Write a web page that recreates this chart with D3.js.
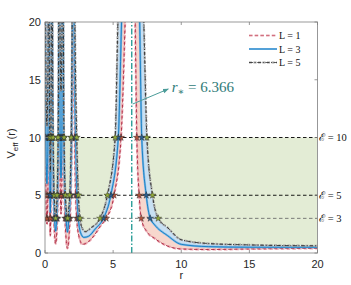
<!DOCTYPE html>
<html>
<head>
<meta charset="utf-8">
<script src="https://cdn.jsdelivr.net/npm/d3@7"></script>
<style>
  body { margin: 0; background: #fff; }
  svg { display: block; }
</style>
</head>
<body>
<div id="chart"></div>
<script>
// values: [r, V_eff] pairs, one array per branch between poles
const rStar = 6.366
const energies = [10, 5, 3]
const xTicks = [0, 5, 10, 15, 20]
const yTicks = [0, 5, 10, 15, 20]

const curveL1 = [
  [[0.004, 40], [0.015, 20], [0.04, 10], [0.08, 4.5], [0.14, 2.5], [0.2, 4.5], [0.24, 10], [0.265, 20], [0.276, 40]],
  [[0.284, 40], [0.295, 20], [0.32, 10], [0.35, 4.5], [0.39, 1.5], [0.43, 4.5], [0.46, 10], [0.485, 20], [0.496, 40]],
  [[0.505, 40], [0.52, 20], [0.56, 10], [0.61, 5], [0.67, 2.5], [0.78, 0.8], [0.89, 2.5], [0.95, 5], [1.0, 10], [1.035, 20], [1.047, 40]],
  [[1.053, 40], [1.065, 20], [1.09, 10], [1.13, 5], [1.175, 3.4], [1.22, 5], [1.26, 10], [1.285, 20], [1.297, 40]],
  [[1.303, 40], [1.32, 20], [1.36, 10], [1.42, 5], [1.5, 2.2], [1.65, 0.4], [1.8, 2.2], [1.9, 5], [1.97, 10], [2.02, 20], [2.045, 40]],
  [[2.055, 40], [2.1, 20], [2.18, 10], [2.25, 5], [2.33, 3], [2.5, 1.4], [2.75, 0.75], [3.1, 0.9], [3.6, 1.5], [4.1, 2.4], [4.49, 3], [5.07, 5], [5.58, 10], [5.88, 20], [6.3, 40]],
  [[6.42, 40], [6.62, 20], [6.74, 10], [6.91, 5], [7.06, 3], [7.5, 1.8], [8, 1.3], [9, 0.6], [10, 0.35], [12, 0.3], [15, 0.35], [20, 0.4]],
]

const curveL3 = [
  [[0.012, 40], [0.03, 20], [0.06, 10], [0.1, 7.5], [0.14, 6], [0.18, 7.5], [0.22, 10], [0.25, 20], [0.268, 40]],
  [[0.29, 40], [0.305, 20], [0.33, 10], [0.36, 6], [0.39, 3.5], [0.42, 6], [0.45, 10], [0.475, 20], [0.49, 40]],
  [[0.512, 40], [0.535, 20], [0.58, 10], [0.63, 5.5], [0.69, 3.3], [0.78, 1.9], [0.87, 3.3], [0.93, 5.5], [0.98, 10], [1.02, 20], [1.04, 40]],
  [[1.06, 40], [1.08, 20], [1.11, 10], [1.175, 6.5], [1.24, 10], [1.27, 20], [1.29, 40]],
  [[1.31, 40], [1.335, 20], [1.38, 10], [1.45, 5.5], [1.53, 3.4], [1.65, 1.8], [1.77, 3.4], [1.87, 5.5], [1.95, 10], [2.005, 20], [2.035, 40]],
  [[2.07, 40], [2.14, 20], [2.25, 10], [2.35, 5], [2.45, 3], [2.6, 1.8], [2.85, 1.35], [3.2, 1.45], [3.7, 2.1], [4.29, 3], [4.83, 5], [5.38, 10], [5.62, 20], [6.2, 40]],
  [[6.46, 40], [6.95, 20], [7.1, 10], [7.43, 5], [7.72, 3], [8, 2.5], [9, 1.5], [10, 0.75], [12, 0.55], [15, 0.5], [20, 0.5]],
]

const curveL5 = [
  [[0.02, 40], [0.05, 20], [0.09, 13], [0.14, 11], [0.19, 13], [0.235, 20], [0.26, 40]],
  [[0.297, 40], [0.315, 20], [0.34, 12], [0.365, 8.5], [0.39, 7], [0.415, 8.5], [0.44, 12], [0.465, 20], [0.483, 40]],
  [[0.52, 40], [0.55, 20], [0.6, 10], [0.65, 6], [0.71, 4], [0.78, 3], [0.85, 4], [0.91, 6], [0.96, 10], [1.005, 20], [1.033, 40]],
  [[1.07, 40], [1.1, 20], [1.175, 14], [1.25, 20], [1.28, 40]],
  [[1.32, 40], [1.35, 20], [1.4, 10], [1.48, 5.5], [1.56, 3.8], [1.65, 2.8], [1.74, 3.8], [1.83, 5.5], [1.92, 10], [1.99, 20], [2.025, 40]],
  [[2.1, 40], [2.2, 20], [2.33, 10], [2.45, 5], [2.57, 3], [2.75, 2.1], [2.95, 1.85], [3.4, 2.2], [4.04, 3], [4.58, 5], [5.15, 10], [5.35, 20], [6.0, 40]],
  [[6.5, 40], [7.25, 20], [7.48, 10], [7.89, 5], [8.31, 3], [9, 2.2], [10, 1.15], [12, 0.82], [15, 0.7], [20, 0.62]],
]

const series = [
  { label: 'L = 1', segs: curveL1, dark: '#a2142f', light: '#e9a3ad', dash: '3.5,2.2', lightDash: '3.5,2.2', star: '#b4553d' },
  { label: 'L = 3', segs: curveL3, dark: '#0072bd', light: '#82bbe6', dash: null, lightDash: null, star: '#2c5f91' },
  { label: 'L = 5', segs: curveL5, dark: '#1a1a1a', light: '#a8a8a8', dash: '4,1.6,1,1.6', lightDash: '3,1.5', star: '#93ab3c' },
]

const width = 351
const height = 285
const margin = { left: 45, right: 33.5, top: 22, bottom: 32 }

const x = d3.scaleLinear().domain([0, 20]).range([margin.left, width - margin.right])
const y = d3.scaleLinear().domain([0, 20]).range([height - margin.bottom, margin.top])

const svg = d3
  .select('#chart')
  .append('svg')
  .attr('width', width)
  .attr('height', height)

const defs = svg.append('defs')
defs
  .append('clipPath')
  .attr('id', 'plot-clip')
  .append('rect')
  .attr('x', x(0))
  .attr('y', y(20))
  .attr('width', x(20) - x(0))
  .attr('height', y(0) - y(20))
defs
  .append('clipPath')
  .attr('id', 'low-clip')
  .append('rect')
  .attr('x', x(0))
  .attr('y', y(10))
  .attr('width', x(20) - x(0))
  .attr('height', y(0) - y(10))

const line = d3
  .line()
  .x((d) => x(d[0]))
  .y((d) => y(d[1]))
  .curve(d3.curveMonotoneX)

// region above a branch, closed off far above the top of the plot
const interior = (pts) => {
  const first = pts[0]
  const last = pts[pts.length - 1]
  return `${line(pts)}L${x(last[0])},${y(60)}L${x(first[0])},${y(60)}Z`
}

const plot = svg.append('g').attr('clip-path', 'url(#plot-clip)')

// shaded bands: pink between L=1 and L=3, blue between L=3 and L=5, green above L=5 up to E=10
const fillGroup = plot.append('g').attr('class', 'fills')
fillGroup
  .selectAll('.fill-l1')
  .data(curveL1)
  .enter()
  .append('path')
  .attr('d', interior)
  .style('fill', '#f7d7cd')
fillGroup
  .selectAll('.fill-l3')
  .data(curveL3)
  .enter()
  .append('path')
  .attr('d', interior)
  .style('fill', '#c8e0f3')
fillGroup
  .selectAll('.fill-l5')
  .data(curveL5)
  .enter()
  .append('path')
  .attr('d', interior)
  .style('fill', '#fff')
fillGroup
  .append('g')
  .attr('clip-path', 'url(#low-clip)')
  .selectAll('path')
  .data(curveL5)
  .enter()
  .append('path')
  .attr('d', interior)
  .style('fill', '#e3ecd5')

// energy levels
plot
  .selectAll('.energy')
  .data(energies)
  .enter()
  .append('line')
  .attr('class', 'energy')
  .attr('x1', x(0))
  .attr('x2', x(20))
  .attr('y1', (d) => y(d))
  .attr('y2', (d) => y(d))
  .style('stroke', (d) => (d === 3 ? '#6e6e6e' : '#000'))
  .style('stroke-width', 0.9)
  .style('stroke-dasharray', '3.5,2.5')

// pole at r*
plot
  .append('line')
  .attr('x1', x(rStar))
  .attr('x2', x(rStar))
  .attr('y1', y(0))
  .attr('y2', y(20))
  .style('stroke', '#2a9d98')
  .style('stroke-width', 1.4)
  .style('stroke-dasharray', '6,2,1.5,2')

// curves: wide light stroke under a thin dark one
series.forEach((s) => {
  const g = plot.append('g').attr('class', 'curve')
  g.selectAll('.wide')
    .data(s.segs)
    .enter()
    .append('path')
    .attr('d', line)
    .style('fill', 'none')
    .style('stroke', s.light)
    .style('stroke-width', 2.2)
    .style('stroke-dasharray', s.lightDash)
  g.selectAll('.thin')
    .data(s.segs)
    .enter()
    .append('path')
    .attr('d', line)
    .style('fill', 'none')
    .style('stroke', s.dark)
    .style('stroke-width', 0.8)
    .style('stroke-dasharray', s.dash)
    .style('stroke-dashoffset', 1.5)
})

// turning points: where each branch meets an energy level
const crossings = (pts, e) => {
  const out = []
  for (let i = 0; i < pts.length; i++) {
    const [r0, v0] = pts[i]
    if (v0 === e) {
      out.push([r0, e])
      continue
    }
    if (i + 1 < pts.length) {
      const [r1, v1] = pts[i + 1]
      if ((v0 - e) * (v1 - e) < 0) out.push([r0 + ((e - v0) / (v1 - v0)) * (r1 - r0), e])
    }
  }
  return out
}

const star = d3.symbol().type(d3.symbolStar).size(15)
series.forEach((s) => {
  const pts = []
  s.segs.forEach((seg) => energies.forEach((e) => pts.push(...crossings(seg, e))))
  plot
    .append('g')
    .selectAll('path')
    .data(pts)
    .enter()
    .append('path')
    .attr('transform', (d) => `translate(${x(d[0])},${y(d[1])})`)
    .attr('d', star)
    .style('fill', s.star)
    .style('stroke', '#222')
    .style('stroke-width', 0.4)
})

// axes box with inward ticks on all four sides
const axisColor = '#808080'
const textColor = '#262626'
const tickLen = 3

svg
  .append('rect')
  .attr('x', x(0))
  .attr('y', y(20))
  .attr('width', x(20) - x(0))
  .attr('height', y(0) - y(20))
  .style('fill', 'none')
  .style('stroke', axisColor)
  .style('stroke-width', 0.8)

const ticks = svg.append('g').style('stroke', axisColor).style('stroke-width', 0.8)
xTicks.forEach((t) => {
  ticks.append('line').attr('x1', x(t)).attr('x2', x(t)).attr('y1', y(0)).attr('y2', y(0) - tickLen)
  ticks.append('line').attr('x1', x(t)).attr('x2', x(t)).attr('y1', y(20)).attr('y2', y(20) + tickLen)
})
yTicks.forEach((t) => {
  ticks.append('line').attr('x1', x(0)).attr('x2', x(0) + tickLen).attr('y1', y(t)).attr('y2', y(t))
  ticks.append('line').attr('x1', x(20)).attr('x2', x(20) - tickLen).attr('y1', y(t)).attr('y2', y(t))
})

const sans = 'Liberation Sans, Arial, Helvetica, sans-serif'
const serif = 'Liberation Serif, DejaVu Serif, Times New Roman, serif'

svg
  .append('g')
  .selectAll('text')
  .data(xTicks)
  .enter()
  .append('text')
  .attr('x', (d) => x(d))
  .attr('y', y(0) + 15)
  .attr('text-anchor', 'middle')
  .style('font-family', sans)
  .style('font-size', '11px')
  .style('fill', textColor)
  .text((d) => d)

svg
  .append('g')
  .selectAll('text')
  .data(yTicks)
  .enter()
  .append('text')
  .attr('x', x(0) - 4)
  .attr('y', (d) => y(d) + 4)
  .attr('text-anchor', 'end')
  .style('font-family', sans)
  .style('font-size', '11px')
  .style('fill', textColor)
  .text((d) => d)

svg
  .append('text')
  .attr('x', x(10))
  .attr('y', y(0) + 26)
  .attr('text-anchor', 'middle')
  .style('font-family', sans)
  .style('font-size', '11px')
  .style('fill', textColor)
  .text('r')

const yLabel = svg
  .append('text')
  .attr('transform', `translate(15,${(y(0) + y(20)) / 2 + 6}) rotate(-90)`)
  .attr('text-anchor', 'middle')
  .style('font-family', sans)
  .style('font-size', '11px')
  .style('fill', textColor)
yLabel.append('tspan').text('V')
yLabel.append('tspan').attr('dy', 2.5).style('font-size', '8px').text('eff')
yLabel.append('tspan').attr('dy', -2.5).text(' (r)')

// energy labels on the right
svg
  .append('g')
  .selectAll('text')
  .data(energies)
  .enter()
  .append('text')
  .attr('x', x(20) + 1.5)
  .attr('y', (d) => y(d) + 3.5)
  .style('font-family', serif)
  .style('font-size', '10.5px')
  .style('fill', '#111')
  .text((d) => `ℰ = ${d}`)

// annotation for r*
svg
  .append('defs')
  .append('marker')
  .attr('id', 'arrow')
  .attr('viewBox', '0 0 10 10')
  .attr('refX', 9)
  .attr('refY', 5)
  .attr('markerWidth', 6)
  .attr('markerHeight', 6)
  .attr('orient', 'auto')
  .append('path')
  .attr('d', 'M0,1L10,5L0,9Z')
  .style('fill', '#4b9c99')

svg
  .append('line')
  .attr('x1', x(rStar) + 1)
  .attr('y1', y(12.9))
  .attr('x2', x(9.05))
  .attr('y2', y(14.2))
  .style('stroke', '#4b9c99')
  .style('stroke-width', 1)
  .attr('marker-end', 'url(#arrow)')

const note = svg
  .append('text')
  .attr('x', x(9.3))
  .attr('y', y(14) + 0.5)
  .style('font-family', serif)
  .style('font-size', '15px')
  .style('fill', '#2f7b78')
note.append('tspan').style('font-style', 'italic').text('r')
note.append('tspan').attr('dy', 3).style('font-size', '10px').text('∗')
note.append('tspan').attr('dy', -3).text(' = 6.366')

// legend
const legend = svg.append('g').attr('class', 'legend')
series.forEach((s, i) => {
  const ly = 35.5 + i * 13.5
  legend
    .append('line')
    .attr('x1', 249)
    .attr('x2', 277)
    .attr('y1', ly)
    .attr('y2', ly)
    .style('stroke', s.light)
    .style('stroke-width', 2)
    .style('stroke-dasharray', s.lightDash)
  legend
    .append('line')
    .attr('x1', 249)
    .attr('x2', 277)
    .attr('y1', ly)
    .attr('y2', ly)
    .style('stroke', s.dark)
    .style('stroke-width', 0.7)
    .style('stroke-dasharray', s.dash)
    .style('stroke-opacity', i === 0 ? 0.5 : 1)
  legend
    .append('text')
    .attr('x', 279)
    .attr('y', ly + 3.5)
    .style('font-family', serif)
    .style('font-size', '10px')
    .style('fill', '#111')
    .text(s.label)
})
</script>
</body>
</html>
